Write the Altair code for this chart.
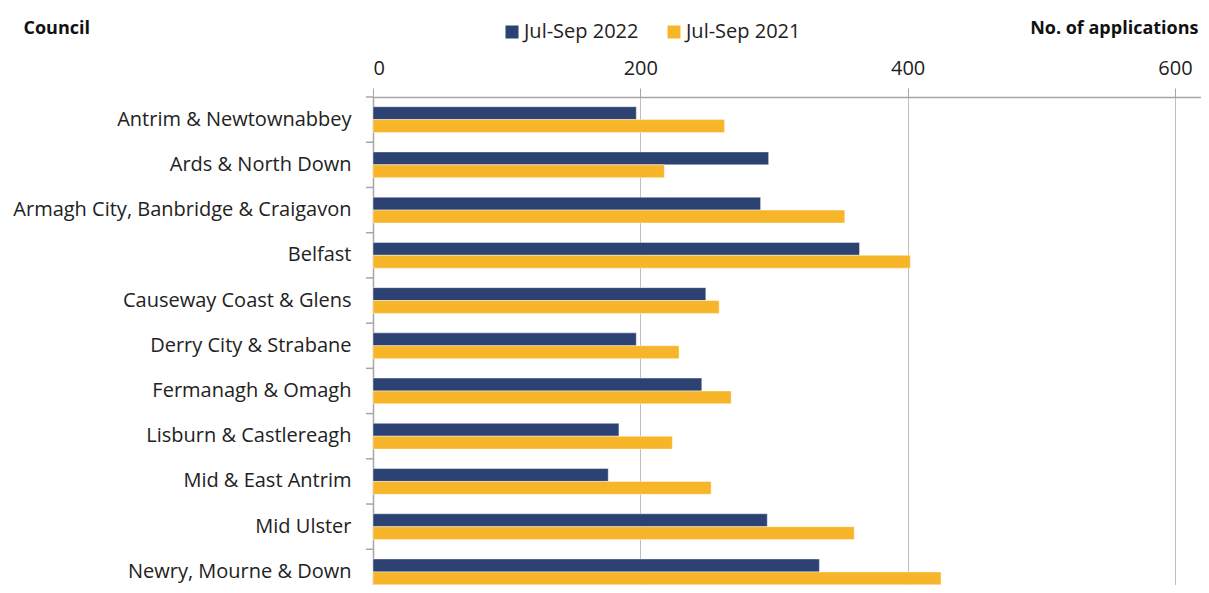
import altair as alt
import pandas as pd

councils = [
    "Antrim & Newtownabbey",
    "Ards & North Down",
    "Armagh City, Banbridge & Craigavon",
    "Belfast",
    "Causeway Coast & Glens",
    "Derry City & Strabane",
    "Fermanagh & Omagh",
    "Lisburn & Castlereagh",
    "Mid & East Antrim",
    "Mid Ulster",
    "Newry, Mourne & Down",
]
v2022 = [197, 296, 290, 364, 249, 197, 246, 184, 176, 295, 334]
v2021 = [263, 218, 353, 402, 259, 229, 268, 224, 253, 360, 425]
series = ["Jul-Sep 2022", "Jul-Sep 2021"]
colors = ["#2C4272", "#F7B62A"]
x_ticks = [0, 200, 400, 600]

rows = []
for c, a, b in zip(councils, v2022, v2021):
    rows.append({"Council": c, "Period": series[0], "Applications": a})
    rows.append({"Council": c, "Period": series[1], "Applications": b})
df = pd.DataFrame(rows)
ticks_df = pd.DataFrame({"Council": councils})

FONT = "Open Sans"
GREY = "#A6A6A6"
Y_RANGE = 497.5
STEP = Y_RANGE / len(councils)
P_IN = 0.43

y_scale = alt.Scale(range=[0, Y_RANGE], paddingInner=P_IN, paddingOuter=P_IN / 2)

bars = (
    alt.Chart(df)
    .mark_bar(stroke="white", strokeWidth=0.6, strokeOpacity=0.7)
    .encode(
        x=alt.X(
            "Applications:Q",
            scale=alt.Scale(domain=[0, 619.5], nice=False, zero=True),
            axis=alt.Axis(
                orient="top",
                values=x_ticks,
                format="d",
                grid=True,
                gridColor="#BFBFBF",
                gridWidth=1,
                domainColor=GREY,
                domainWidth=1.5,
                tickColor=GREY,
                tickSize=9,
                labelPadding=10,
                labelFont=FONT,
                labelFontSize=20,
                labelColor="#222222",
                title="No. of applications",
                titleFont=FONT,
                titleFontSize=18,
                titleFontWeight="bold",
                titleColor="#111111",
                titleAlign="right",
                titleBaseline="middle",
                titleX=825,
                titleY=-69,
            ),
        ),
        y=alt.Y(
            "Council:N",
            sort=councils,
            scale=y_scale,
            axis=alt.Axis(
                ticks=False,
                tickSize=0,
                grid=False,
                domainColor=GREY,
                domainWidth=1.5,
                labelPadding=22,
                labelFont=FONT,
                labelFontSize=20,
                labelColor="#222222",
                labelLimit=400,
                title="Council",
                titleFont=FONT,
                titleFontSize=18,
                titleFontWeight="bold",
                titleColor="#111111",
                titleAngle=0,
                titleAlign="left",
                titleBaseline="middle",
                titleX=-350,
                titleY=-69,
            ),
        ),
        yOffset=alt.YOffset("Period:N", sort=series),
        color=alt.Color(
            "Period:N",
            sort=series,
            scale=alt.Scale(domain=series, range=colors),
            legend=alt.Legend(
                title=None,
                orient="none",
                direction="horizontal",
                legendX=129,
                legendY=-75,
                symbolType="square",
                symbolSize=169,
                symbolStrokeWidth=0,
                labelFont=FONT,
                labelFontSize=20,
                labelColor="#222222",
                columnPadding=25,
                labelOffset=2,
            ),
        ),
    )
)

ticks = (
    alt.Chart(ticks_df)
    .mark_rule(color=GREY, strokeWidth=1.5, yOffset=-P_IN / 2 * STEP)
    .encode(
        y=alt.Y("Council:N", sort=councils, bandPosition=0, scale=y_scale),
        x=alt.value(-7),
        x2=alt.value(0),
    )
)

chart = (
    alt.layer(bars, ticks)
    .properties(
        width=828,
        height=488,
        autosize=alt.AutoSizeParams(type="none"),
        padding={"left": 365, "top": 89, "right": 0, "bottom": 0},
    )
    .configure_view(stroke=None)
)

chart.save("out.html", embed_options={"renderer": "svg", "actions": False})
